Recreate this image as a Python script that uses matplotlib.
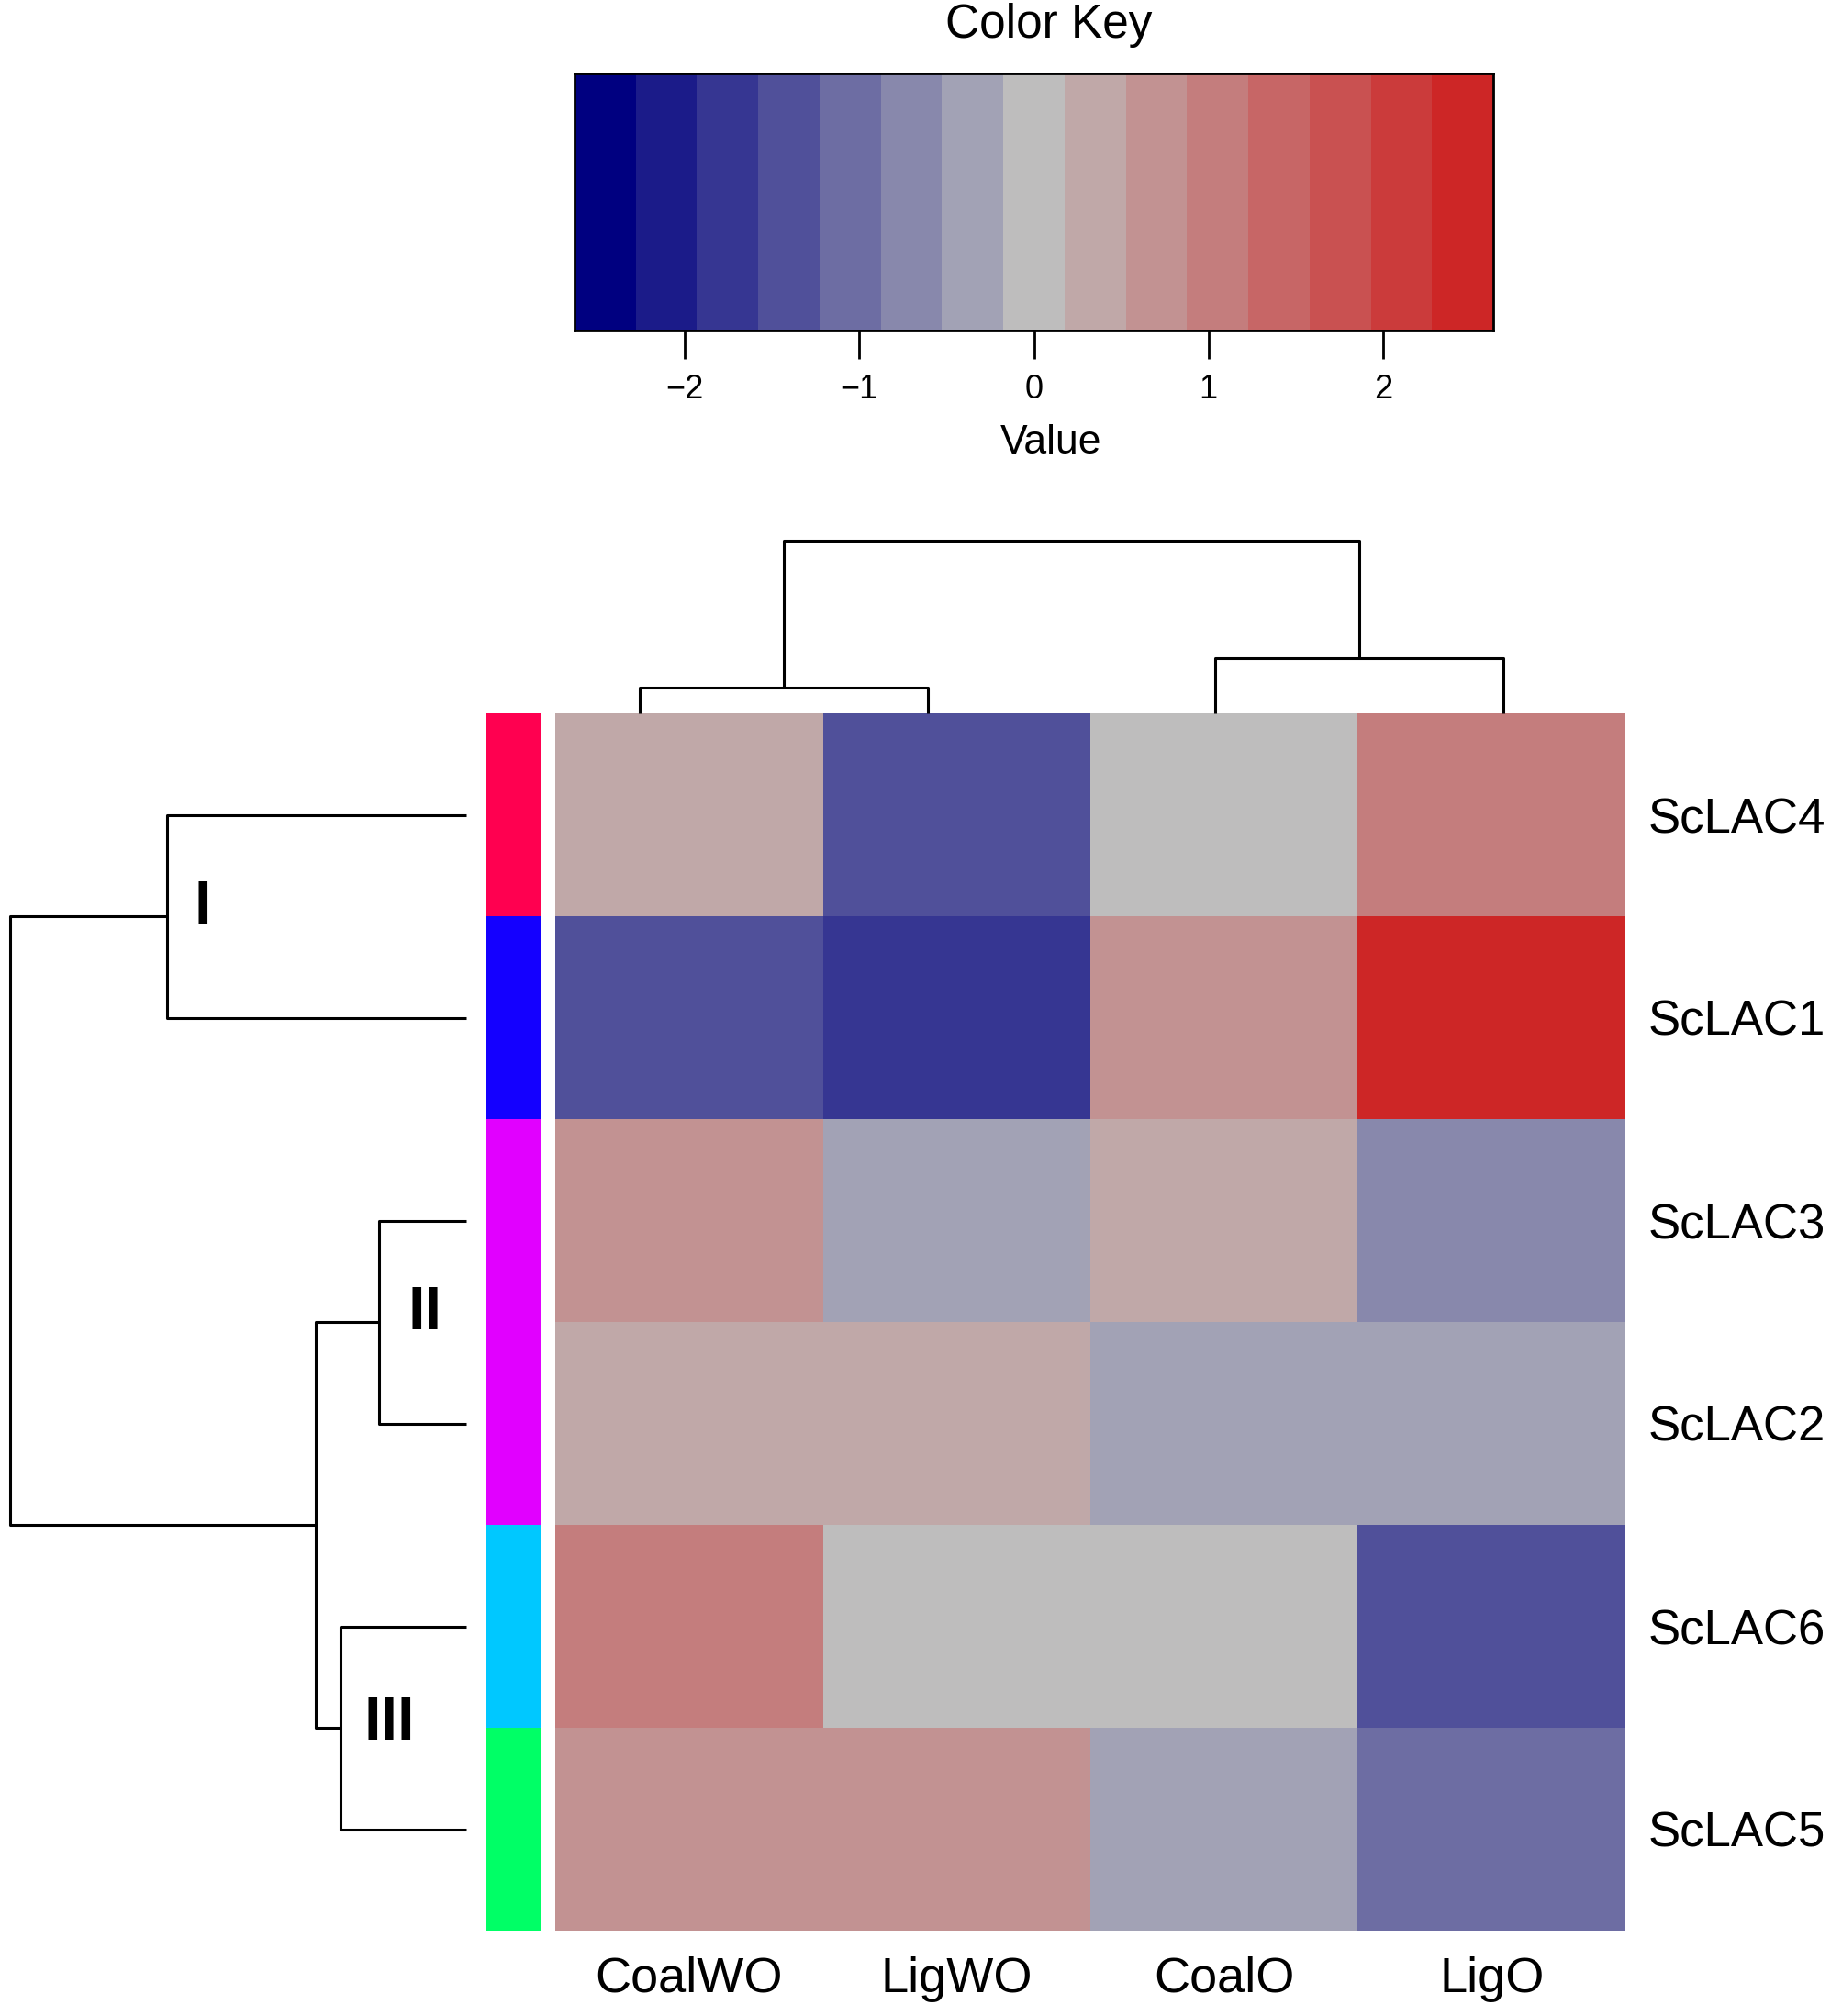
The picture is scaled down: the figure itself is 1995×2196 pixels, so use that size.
import numpy as np
import matplotlib
matplotlib.use("Agg")
import matplotlib.pyplot as plt
from matplotlib.colors import ListedColormap, BoundaryNorm, LinearSegmentedColormap

plt.rcParams['font.family'] = ['Liberation Sans', 'DejaVu Sans']

# data (display order, top to bottom)
genes = ["ScLAC4", "ScLAC1", "ScLAC3", "ScLAC2", "ScLAC6", "ScLAC5"]
samples = ["CoalWO", "LigWO", "CoalO", "LigO"]
values = np.array([
    [0.32, -1.38, 0.05, 1.02],
    [-1.42, -1.78, 0.70, 2.60],
    [0.68, -0.35, 0.38, -0.72],
    [0.30, 0.36, -0.38, -0.40],
    [1.05, -0.02, 0.04, -1.40],
    [0.72, 0.66, -0.40, -1.08],
])
side_colors = ["#ff0050", "#1400ff", "#e100ff", "#e100ff", "#00c8ff", "#00ff66"]

# row dendrogram: merge (a, b, height); leaves are 0..5
row_merge_a = [0, 2, 4, 7, 6]
row_merge_b = [1, 3, 5, 8, 9]
row_heights = [2.33, 0.68, 0.98, 1.17, 3.55]
clade_names = ["I", "II", "III"]
clade_x = [2.05, 0.32, 0.60]
clade_y = [0.96, 2.96, 4.98]

# column dendrogram
col_merge_a = [0, 2, 4]
col_merge_b = [1, 3, 5]
col_heights = [0.20, 0.43, 1.34]

key_min, key_max = -2.63, 2.63
n_colors = 15
key_ticks = [-2, -1, 0, 1, 2]

# colours: navy -> grey -> firebrick3
ramp = LinearSegmentedColormap.from_list("ramp", ["#000080", "#bebebe", "#cd2626"])
cols = [ramp(i / (n_colors - 1)) for i in range(n_colors)]
cmap = ListedColormap(cols)
breaks = np.linspace(key_min, key_max, n_colors + 1)
norm = BoundaryNorm(breaks, n_colors)

W, H = 1995, 2196
fig = plt.figure(figsize=(W / 100, H / 100), dpi=100)


def px_axes(left, top, right, bottom):
    return fig.add_axes([left / W, 1 - bottom / H, (right - left) / W, (bottom - top) / H])


def draw_dendro(ax, n_leaves, ma, mb, hts, horizontal):
    pos = {i: i + 0.5 for i in range(n_leaves)}
    hgt = {i: 0.0 for i in range(n_leaves)}
    for k, (a, b, h) in enumerate(zip(ma, mb, hts)):
        node = n_leaves + k
        xs = [pos[a], pos[a], pos[b], pos[b]]
        ys = [hgt[a], h, h, hgt[b]]
        if horizontal:
            ax.plot(ys, xs, color="black", lw=2.2, solid_capstyle="butt", clip_on=False)
        else:
            ax.plot(xs, ys, color="black", lw=2.2, solid_capstyle="butt", clip_on=False)
        pos[node] = (pos[a] + pos[b]) / 2
        hgt[node] = h
    ax.axis("off")


# heatmap
ax = px_axes(605, 777, 1771, 2103)
ax.pcolormesh(np.arange(len(samples) + 1), np.arange(len(genes) + 1), values,
              cmap=cmap, norm=norm, antialiased=False)
ax.set_xlim(0, len(samples))
ax.set_ylim(len(genes), 0)
for s in ax.spines.values():
    s.set_visible(False)
ax.set_xticks(np.arange(len(samples)) + 0.5)
ax.set_xticklabels(samples, fontsize=39)
ax.set_yticks(np.arange(len(genes)) + 0.5)
ax.set_yticklabels(genes, fontsize=38)
ax.yaxis.tick_right()
ax.tick_params(axis="both", length=0)
ax.tick_params(axis="x", pad=20)
ax.tick_params(axis="y", pad=18)

# side colour bar
ax_side = px_axes(529, 777, 589, 2103)
for i, c in enumerate(side_colors):
    ax_side.bar(0.5, 1, bottom=i, width=1, color=c, edgecolor="none")
ax_side.set_xlim(0, 1)
ax_side.set_ylim(len(genes), 0)
ax_side.axis("off")

# row dendrogram
ax_rd = px_axes(11, 777, 508, 2103)
draw_dendro(ax_rd, len(genes), row_merge_a, row_merge_b, row_heights, True)
ax_rd.set_xlim(max(row_heights), 0)
ax_rd.set_ylim(len(genes), 0)
for name, x, y in zip(clade_names, clade_x, clade_y):
    ax_rd.text(x, y, name, fontsize=48, fontweight="bold", ha="center", va="center")

# column dendrogram
ax_cd = px_axes(540, 589, 1795, 777)
draw_dendro(ax_cd, len(samples), col_merge_a, col_merge_b, col_heights, False)
ax_cd.set_xlim(0, len(samples))
ax_cd.set_ylim(0, max(col_heights))

# colour key
ax_k = px_axes(626, 80, 1627, 360)
ax_k.pcolormesh(breaks, [0, 1], np.array([(breaks[:-1] + breaks[1:]) / 2]),
                cmap=cmap, norm=norm, antialiased=False)
ax_k.set_xlim(key_min, key_max)
ax_k.set_ylim(0, 1)
ax_k.set_yticks([])
ax_k.set_xticks(key_ticks)
ax_k.set_xticklabels(["\u22122", "\u22121", "0", "1", "2"], fontsize=26)
ax_k.tick_params(axis="x", length=22, width=2, pad=12)
for s in ax_k.spines.values():
    s.set_linewidth(2)
fig.text(1145 / W, 1 - 483 / H, "Value", fontsize=32, ha="center", va="center")
fig.text(1143 / W, 1 - 27 / H, "Color Key", fontsize=37, ha="center", va="center")

fig.savefig("out.png", dpi=100, facecolor="white")
